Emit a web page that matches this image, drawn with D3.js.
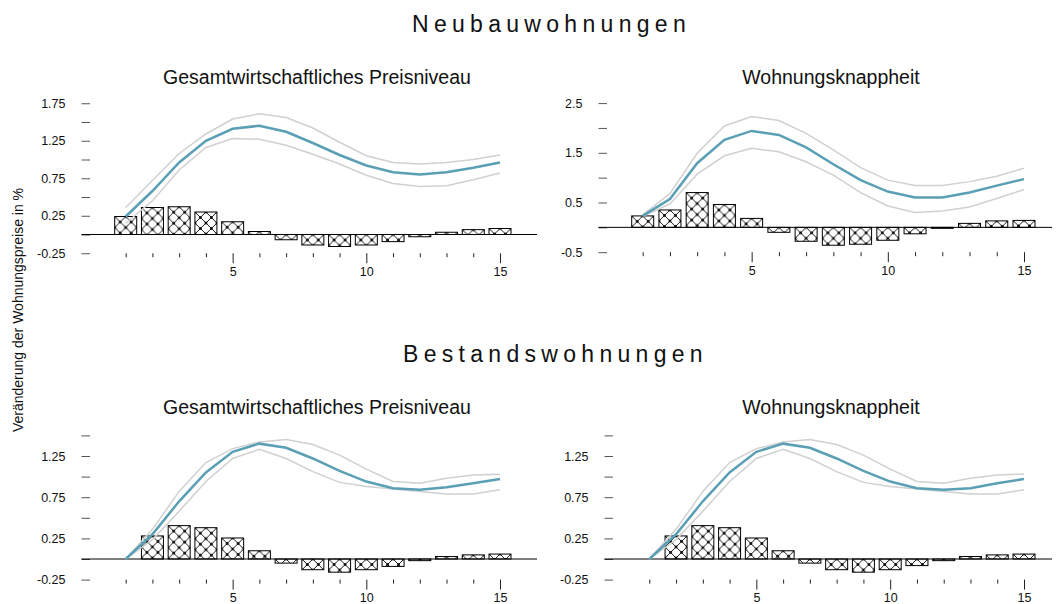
<!DOCTYPE html>
<html>
<head>
<meta charset="utf-8">
<script src="https://cdn.jsdelivr.net/npm/d3@7"></script>
<style>
  body { margin: 0; background: #fff; }
  text { font-family: "Liberation Sans", Arial, sans-serif; fill: #111; }
</style>
</head>
<body>
<div id="chart"></div>
<script>
// Horizon (quarters) on the x axis
var horizons = [1, 2, 3, 4, 5, 6, 7, 8, 9, 10, 11, 12, 13, 14, 15];
var xLabels = [5, 10, 15];

// Neubauwohnungen - Gesamtwirtschaftliches Preisniveau
var neuPreisBars = [0.24, 0.36, 0.37, 0.30, 0.17, 0.04, -0.07, -0.14, -0.16, -0.14, -0.095, -0.03, 0.03, 0.065, 0.08];
var neuPreisIrf  = [0.24, 0.58, 0.96, 1.25, 1.41, 1.45, 1.37, 1.22, 1.06, 0.92, 0.83, 0.80, 0.83, 0.89, 0.96];
var neuPreisUp   = [0.36, 0.72, 1.08, 1.34, 1.54, 1.61, 1.56, 1.42, 1.23, 1.05, 0.96, 0.94, 0.96, 1.00, 1.06];
var neuPreisLo   = [0.15, 0.45, 0.86, 1.16, 1.28, 1.27, 1.19, 1.07, 0.94, 0.79, 0.68, 0.64, 0.65, 0.73, 0.82];

// Neubauwohnungen - Wohnungsknappheit
var neuKnappBars = [0.23, 0.35, 0.70, 0.46, 0.18, -0.10, -0.28, -0.36, -0.34, -0.26, -0.13, -0.02, 0.08, 0.13, 0.14];
var neuKnappIrf  = [0.23, 0.57, 1.29, 1.76, 1.94, 1.86, 1.61, 1.27, 0.95, 0.72, 0.60, 0.60, 0.70, 0.84, 0.97];
var neuKnappUp   = [0.25, 0.68, 1.49, 2.04, 2.23, 2.15, 1.89, 1.56, 1.20, 0.95, 0.84, 0.84, 0.92, 1.03, 1.19];
var neuKnappLo   = [0.22, 0.47, 1.07, 1.44, 1.59, 1.52, 1.32, 1.05, 0.70, 0.43, 0.30, 0.33, 0.41, 0.58, 0.76];

// Bestandswohnungen - Gesamtwirtschaftliches Preisniveau
var bestPreisBars = [0, 0.28, 0.405, 0.38, 0.255, 0.10, -0.05, -0.13, -0.16, -0.13, -0.09, -0.02, 0.03, 0.05, 0.06];
var bestPreisIrf  = [0, 0.30, 0.70, 1.05, 1.30, 1.40, 1.35, 1.22, 1.07, 0.94, 0.86, 0.84, 0.87, 0.92, 0.97];
var bestPreisUp   = [0, 0.36, 0.82, 1.17, 1.34, 1.42, 1.45, 1.39, 1.26, 1.09, 0.94, 0.92, 0.98, 1.02, 1.03];
var bestPreisLo   = [0, 0.235, 0.58, 0.94, 1.22, 1.33, 1.22, 1.06, 0.93, 0.88, 0.85, 0.82, 0.79, 0.79, 0.84];

// Bestandswohnungen - Wohnungsknappheit
var bestKnappBars = [0, 0.28, 0.405, 0.38, 0.255, 0.10, -0.05, -0.13, -0.16, -0.13, -0.08, -0.02, 0.03, 0.05, 0.06];
var bestKnappIrf  = [0, 0.30, 0.70, 1.05, 1.30, 1.40, 1.35, 1.22, 1.07, 0.94, 0.86, 0.84, 0.86, 0.92, 0.97];
var bestKnappUp   = [0, 0.36, 0.82, 1.17, 1.34, 1.42, 1.45, 1.39, 1.26, 1.09, 0.94, 0.92, 0.98, 1.02, 1.03];
var bestKnappLo   = [0, 0.235, 0.58, 0.94, 1.22, 1.33, 1.22, 1.06, 0.93, 0.88, 0.85, 0.82, 0.79, 0.79, 0.84];

// y axis ticks
var ticksA = [-0.25, 0, 0.25, 0.5, 0.75, 1, 1.25, 1.5, 1.75];
var labelsA = [-0.25, 0.25, 0.75, 1.25, 1.75];
var ticksB = [-0.5, 0, 0.5, 1, 1.5, 2, 2.5];
var labelsB = [-0.5, 0.5, 1.5, 2.5];
var ticksC = [-0.25, 0, 0.25, 0.5, 0.75, 1, 1.25, 1.5];
var labelsC = [-0.25, 0.25, 0.75, 1.25];

var panelTitles = ["Gesamtwirtschaftliches Preisniveau", "Wohnungsknappheit"];
var sectionTitles = ["Neubauwohnungen", "Bestandswohnungen"];
var yTitle = "Veränderung der Wohnungspreise in %";

var width = 1057, height = 604;
var blue = "#5a9fb4", grey = "#d0d0d0";

var panels = [
  { bars: neuPreisBars, irf: neuPreisIrf, up: neuPreisUp, lo: neuPreisLo,
    title: panelTitles[0], titleX: 317, titleY: 84,
    x: [125.7, 500], yDomain: [-0.25, 1.75], y: [253.25, 103.25],
    ticks: ticksA, labels: labelsA, axisX: 90, lineTo: 537 },
  { bars: neuKnappBars, irf: neuKnappIrf, up: neuKnappUp, lo: neuKnappLo,
    title: panelTitles[1], titleX: 831, titleY: 84,
    x: [642.7, 1024], yDomain: [-0.5, 2.5], y: [252.2, 103.1],
    ticks: ticksB, labels: labelsB, axisX: 607, lineTo: 1052 },
  { bars: bestPreisBars, irf: bestPreisIrf, up: bestPreisUp, lo: bestPreisLo,
    title: panelTitles[0], titleX: 317, titleY: 414,
    x: [125.7, 500], yDomain: [-0.25, 1.5], y: [579.6, 435.4],
    ticks: ticksC, labels: labelsC, axisX: 90, lineTo: 537 },
  { bars: bestKnappBars, irf: bestKnappIrf, up: bestKnappUp, lo: bestKnappLo,
    title: panelTitles[1], titleX: 831, titleY: 414,
    x: [649.3, 1024], yDomain: [-0.25, 1.5], y: [579.6, 435.4],
    ticks: ticksC, labels: labelsC, axisX: 613, lineTo: 1052 }
];

var svg = d3.select("#chart").append("svg")
    .attr("width", width)
    .attr("height", height);

// Cross-hatch with dots at the crossings
var pat = svg.append("defs").append("pattern")
    .attr("id", "hatch")
    .attr("patternUnits", "userSpaceOnUse")
    .attr("width", 11)
    .attr("height", 11);
pat.append("rect")
    .attr("width", 11)
    .attr("height", 11)
    .attr("fill", "#fff");
pat.append("path")
    .attr("d", "M0,0L11,11M11,0L0,11")
    .attr("stroke", "#000")
    .attr("stroke-width", 0.9);
pat.selectAll(".dot")
    .data([[0, 0], [11, 0], [0, 11], [11, 11], [5.5, 5.5]])
  .enter().append("rect")
    .attr("x", function(d) { return d[0] - 1.3; })
    .attr("y", function(d) { return d[1] - 1.3; })
    .attr("width", 2.6)
    .attr("height", 2.6)
    .attr("fill", "#000");

// Section titles
svg.selectAll(".section")
    .data(sectionTitles)
  .enter().append("text")
    .attr("class", "section")
    .attr("x", function(d, i) { return i === 0 ? 412 : 403; })
    .attr("y", function(d, i) { return i === 0 ? 32 : 362; })
    .style("font-size", "23px")
    .style("letter-spacing", "5.3px")
    .text(function(d) { return d; });

svg.append("text")
    .attr("transform", "translate(23,310) rotate(-90)")
    .attr("text-anchor", "middle")
    .style("font-size", "14px")
    .text(yTitle);

panels.forEach(function(p) {
  var xScale = d3.scaleLinear().domain([1, 15]).range(p.x);
  var yScale = d3.scaleLinear().domain(p.yDomain).range(p.y);
  var g = svg.append("g");
  var bw = 22;

  g.append("text")
      .attr("x", p.titleX)
      .attr("y", p.titleY)
      .attr("text-anchor", "middle")
      .style("font-size", "19.5px")
      .text(p.title);

  // y axis: short dashes, labels on every other tick
  var yAxis = d3.axisLeft(yScale)
      .tickValues(p.ticks)
      .tickSize(8.5)
      .tickPadding(16)
      .tickFormat(function(d) {
        return p.labels.indexOf(d) >= 0 ? String(d) : "";
      });
  var ya = g.append("g")
      .attr("transform", "translate(" + p.axisX + ",0)")
      .call(yAxis);
  ya.select(".domain").remove();
  ya.selectAll("line").attr("stroke", "#555");
  ya.selectAll("text").style("font-size", "12.5px").attr("fill", "#111");

  // x axis: small ticks below the plot, longer where labelled
  var xAxis = d3.axisBottom(xScale)
      .tickValues(horizons)
      .tickSize(4)
      .tickFormat(function(d) {
        return xLabels.indexOf(d) >= 0 ? String(d) : "";
      });
  var xa = g.append("g")
      .attr("transform", "translate(0," + p.y[0] + ")")
      .call(xAxis);
  xa.select(".domain").remove();
  xa.selectAll("line")
      .attr("stroke", "#222")
      .attr("y2", function(d) { return xLabels.indexOf(d) >= 0 ? 10 : 4; });
  xa.selectAll("text")
      .attr("y", 13.5)
      .style("font-size", "12.5px")
      .attr("fill", "#111");

  // Bars
  var bar = g.selectAll(".bar")
      .data(p.bars)
    .enter().append("g")
      .attr("class", "bar")
      .attr("transform", function(d, i) {
        return "translate(" + (xScale(horizons[i]) - bw / 2) + "," +
               yScale(Math.max(0, d)) + ")";
      });
  bar.append("rect")
      .attr("width", bw)
      .attr("height", function(d) { return Math.abs(yScale(d) - yScale(0)); })
      .attr("fill", "url(#hatch)")
      .attr("stroke", "#000")
      .attr("stroke-width", 1);

  // Zero line
  g.append("line")
      .attr("x1", p.axisX - 8.5)
      .attr("x2", p.lineTo)
      .attr("y1", yScale(0))
      .attr("y2", yScale(0))
      .attr("stroke", "#000")
      .attr("stroke-width", 1);

  var line = d3.line()
      .x(function(d, i) { return xScale(horizons[i]); })
      .y(function(d) { return yScale(d); });

  [p.up, p.lo].forEach(function(s) {
    g.append("path")
        .attr("d", line(s))
        .attr("fill", "none")
        .attr("stroke", grey)
        .attr("stroke-width", 1.5);
  });
  g.append("path")
      .attr("d", line(p.irf))
      .attr("fill", "none")
      .attr("stroke", blue)
      .attr("stroke-width", 2.5);
});
</script>
</body>
</html>
